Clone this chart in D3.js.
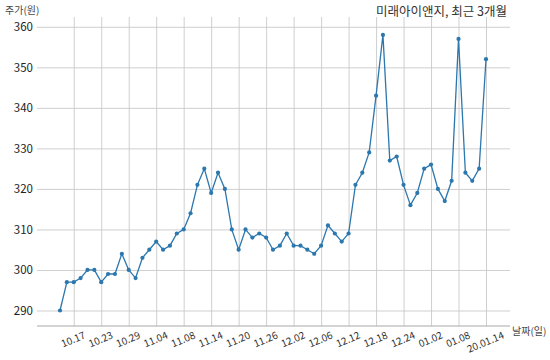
<!DOCTYPE html>
<html><head><meta charset="utf-8">
<script src="https://cdn.jsdelivr.net/npm/d3@7"></script>
<style>
body{margin:0;background:#fff}
svg{display:block}
text{font-family:"Noto Sans CJK KR","Noto Sans",sans-serif}
</style>
</head><body>
<svg id="c" width="550" height="360"></svg>
<script>
const dates = ["10.15","10.16","10.17","10.18","10.21","10.22","10.23","10.24","10.25","10.28",
  "10.29","10.30","10.31","11.01","11.04","11.05","11.06","11.07","11.08","11.11",
  "11.12","11.13","11.14","11.15","11.18","11.19","11.20","11.21","11.22","11.25",
  "11.26","11.27","11.28","11.29","12.02","12.03","12.04","12.05","12.06","12.09",
  "12.10","12.11","12.12","12.13","12.16","12.17","12.18","12.19","12.20","12.23",
  "12.24","12.26","12.27","12.30","01.02","01.03","01.06","01.07","01.08","01.09",
  "01.10","01.13","01.14"];
const prices = [290,297,297,298,300,300,297,299,299,304,
  300,298,303,305,307,305,306,309,310,314,
  321,325,319,324,320,310,305,310,308,309,
  308,305,306,309,306,306,305,304,306,311,
  309,307,309,321,324,329,343,358,327,328,
  321,316,319,325,326,320,317,322,357,324,
  322,325,352];
const yTicks = [290,300,310,320,330,340,350,360];
const xTickDates = ["10.17","10.23","10.29","11.04","11.08","11.14","11.20","11.26",
  "12.02","12.06","12.12","12.18","12.24","01.02","01.08","01.14"];
const xTickLabels = ["10.17","10.23","10.29","11.04","11.08","11.14","11.20","11.26",
  "12.02","12.06","12.12","12.18","12.24","01.02","01.08","20.01.14"];
const title = "미래아이앤지, 최근 3개월";
const yLabel = "주가(원)";
const xLabel = "날짜(일)";

const svg = d3.select("#c");
const P = {left:37, right:510, top:17, bottom:326};
const x = d3.scalePoint().domain(dates).range([60, 486]);
const y = d3.scaleLinear().domain([290, 360]).range([310.5, 26.8]);
const gridColor = "#c9c9c9";

// Y axis with horizontal grid
const gy = svg.append("g").attr("transform", `translate(${P.left},0)`)
  .call(d3.axisLeft(y).tickValues(yTicks).tickSize(-(P.right - P.left)).tickPadding(4).tickFormat(d3.format("d")));
gy.select(".domain").remove();
gy.selectAll(".tick line").attr("stroke", gridColor).attr("stroke-width", 0.9);
gy.selectAll(".tick text").attr("font-size", 11.5).attr("fill", "#222")
  .style("font-family", '"Noto Sans CJK KR","Noto Sans",sans-serif');

// X axis with vertical grid
const labelOf = d => xTickLabels[xTickDates.indexOf(d)];
const gx = svg.append("g").attr("transform", `translate(0,${P.bottom})`)
  .call(d3.axisBottom(x).tickValues(xTickDates).tickSize(-(P.bottom - P.top)).tickFormat(labelOf));
gx.select(".domain").remove();
gx.selectAll(".tick line").attr("stroke", gridColor).attr("stroke-width", 0.9);
const deg = 23, fs = 10;
const ang = deg * Math.PI / 180;
gx.selectAll(".tick text")
  .attr("font-size", fs).attr("fill", "#333")
  .style("font-family", '"Noto Sans CJK KR","Noto Sans",sans-serif')
  .attr("text-anchor", "middle").attr("dy", "0.35em").attr("y", 0)
  .each(function() {
    const L = this.getComputedTextLength();
    const h = L * Math.sin(ang) + fs * Math.cos(ang);
    d3.select(this).attr("transform", `translate(-1,${4 + h / 2}) rotate(${-deg})`);
  });

// bottom axis line
svg.append("line").attr("x1", P.left).attr("x2", P.right)
  .attr("y1", P.bottom).attr("y2", P.bottom)
  .attr("stroke", "#a8a8a8").attr("stroke-width", 1);

// series
const color = "#2b77ae";
svg.append("path").datum(prices)
  .attr("fill", "none").attr("stroke", color).attr("stroke-width", 1.3)
  .attr("d", d3.line().x((d, i) => x(dates[i])).y(d => y(d)));
svg.append("g").selectAll("circle").data(prices).join("circle")
  .attr("cx", (d, i) => x(dates[i])).attr("cy", d => y(d)).attr("r", 2.1)
  .attr("fill", color);

// texts
svg.append("text").attr("x", 507).attr("y", 16).attr("text-anchor", "end")
  .attr("font-size", 12.5).attr("fill", "#333").text(title);
svg.append("text").attr("x", 5).attr("y", 14)
  .attr("font-size", 10).attr("fill", "#444").text(yLabel);
svg.append("text").attr("x", 512).attr("y", 335)
  .attr("font-size", 10).attr("fill", "#444").text(xLabel);
</script>
</body></html>
